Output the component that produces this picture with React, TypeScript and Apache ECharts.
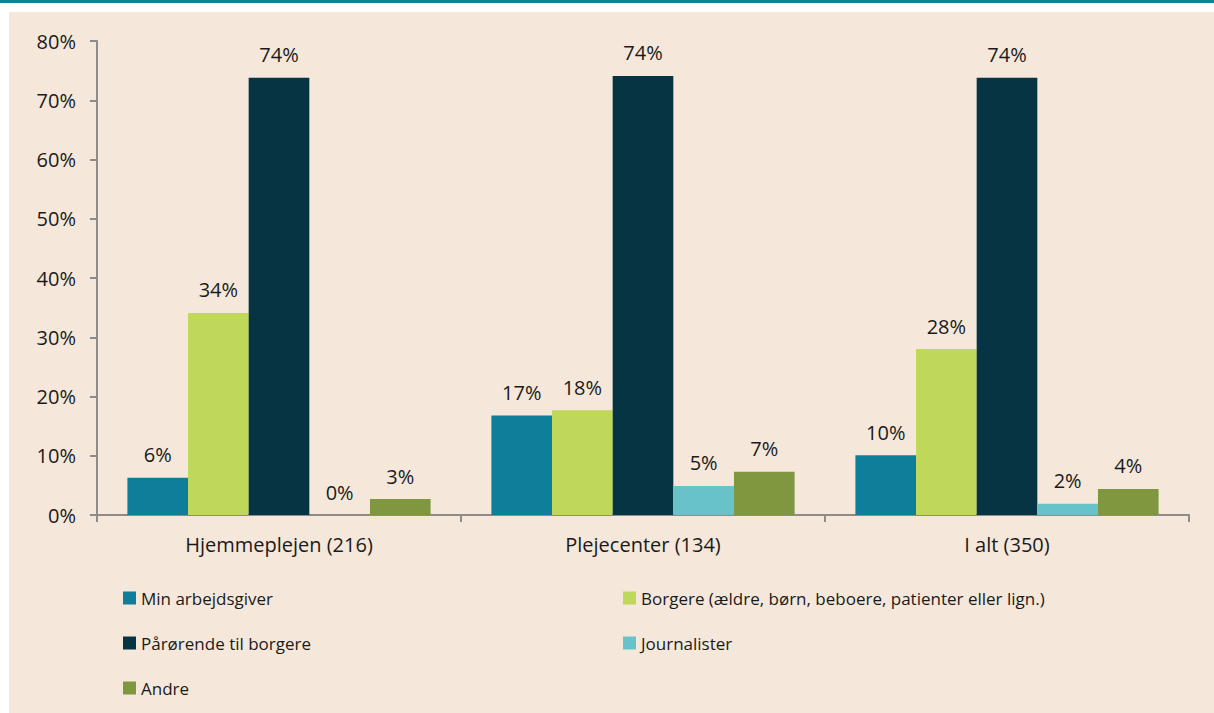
import React, { useEffect, useRef } from "react";
import * as echarts from "echarts";

const categories = ["Hjemmeplejen (216)", "Plejecenter (134)", "I alt (350)"];
const seriesNames = [
  "Min arbejdsgiver",
  "Borgere (ældre, børn, beboere, patienter eller lign.)",
  "Pårørende til borgere",
  "Journalister",
  "Andre",
];
const minArbejdsgiver = [6.3, 16.8, 10.1];
const borgere = [34.1, 17.7, 28.0];
const paaroerende = [73.8, 74.1, 73.8];
const journalister = [0, 4.9, 1.9];
const andre = [2.7, 7.3, 4.4];
const yTicks = [0, 10, 20, 30, 40, 50, 60, 70, 80];

const colors = ["#0f7e9b", "#bfd85a", "#073442", "#67c3c9", "#7f983f"];
const FONT = "'Open Sans', 'Noto Sans', sans-serif";

export default function App() {
  const ref = useRef<HTMLDivElement>(null);
  useEffect(() => {
    if (!ref.current) return;
    const chart = echarts.init(ref.current, undefined, { renderer: "svg" });
    const values = [minArbejdsgiver, borgere, paaroerende, journalister, andre];
    const legendText = { fontSize: 17, color: "#1a1a1a", fontFamily: FONT, lineHeight: 20 };
    chart.setOption({
      animation: false,
      backgroundColor: "#ffffff",
      textStyle: { fontFamily: FONT },
      graphic: [
        { type: "rect", z: -10, silent: true, shape: { x: 0, y: 0, width: 1214, height: 3 }, style: { fill: "#127f9b" } },
        { type: "rect", z: -10, silent: true, shape: { x: 9, y: 12, width: 1205, height: 701 }, style: { fill: "#f5e8db" } },
      ],
      grid: { left: 97, right: 25, top: 41, bottom: 198, containLabel: false },
      legend: [
        {
          orient: "vertical",
          left: 123,
          top: 588,
          padding: 0,
          itemWidth: 13,
          itemHeight: 13,
          itemGap: 25,
          icon: "rect",
          data: [seriesNames[0], seriesNames[2], seriesNames[4]],
          textStyle: legendText,
          selectedMode: false,
        },
        {
          orient: "vertical",
          left: 623,
          top: 588,
          padding: 0,
          itemWidth: 13,
          itemHeight: 13,
          itemGap: 25,
          icon: "rect",
          data: [seriesNames[1], seriesNames[3]],
          textStyle: legendText,
          selectedMode: false,
        },
      ],
      xAxis: {
        type: "category",
        data: categories,
        axisLine: { lineStyle: { color: "#8c8c8c", width: 2 } },
        axisTick: { show: true, length: 7, lineStyle: { color: "#8c8c8c", width: 2 } },
        axisLabel: { fontSize: 20, color: "#1a1a1a", margin: 19, fontFamily: FONT },
      },
      yAxis: {
        type: "value",
        min: 0,
        max: 80,
        interval: 10,
        axisLine: { show: true, lineStyle: { color: "#8c8c8c", width: 2 } },
        axisTick: { show: true, length: 7, lineStyle: { color: "#8c8c8c", width: 2 } },
        splitLine: { show: false },
        axisLabel: {
          fontSize: 20,
          color: "#1a1a1a",
          margin: 21,
          fontFamily: FONT,
          formatter: (v: number) => (yTicks.includes(v) ? v + "%" : ""),
        },
      },
      series: seriesNames.map((name, i) => ({
        name,
        type: "bar",
        data: values[i],
        barGap: "0%",
        barCategoryGap: "16.7%",
        itemStyle: { color: colors[i] },
        label: {
          show: true,
          position: "top",
          distance: 13,
          fontSize: 20,
          color: "#1a1a1a",
          fontFamily: FONT,
          formatter: (p: any) => Math.round(p.value) + "%",
        },
      })),
    });
    return () => chart.dispose();
  }, []);
  return (
    <div
      ref={ref}
      style={{ position: "absolute", left: 0, top: 0, width: 1214, height: 713 }}
    />
  );
}
